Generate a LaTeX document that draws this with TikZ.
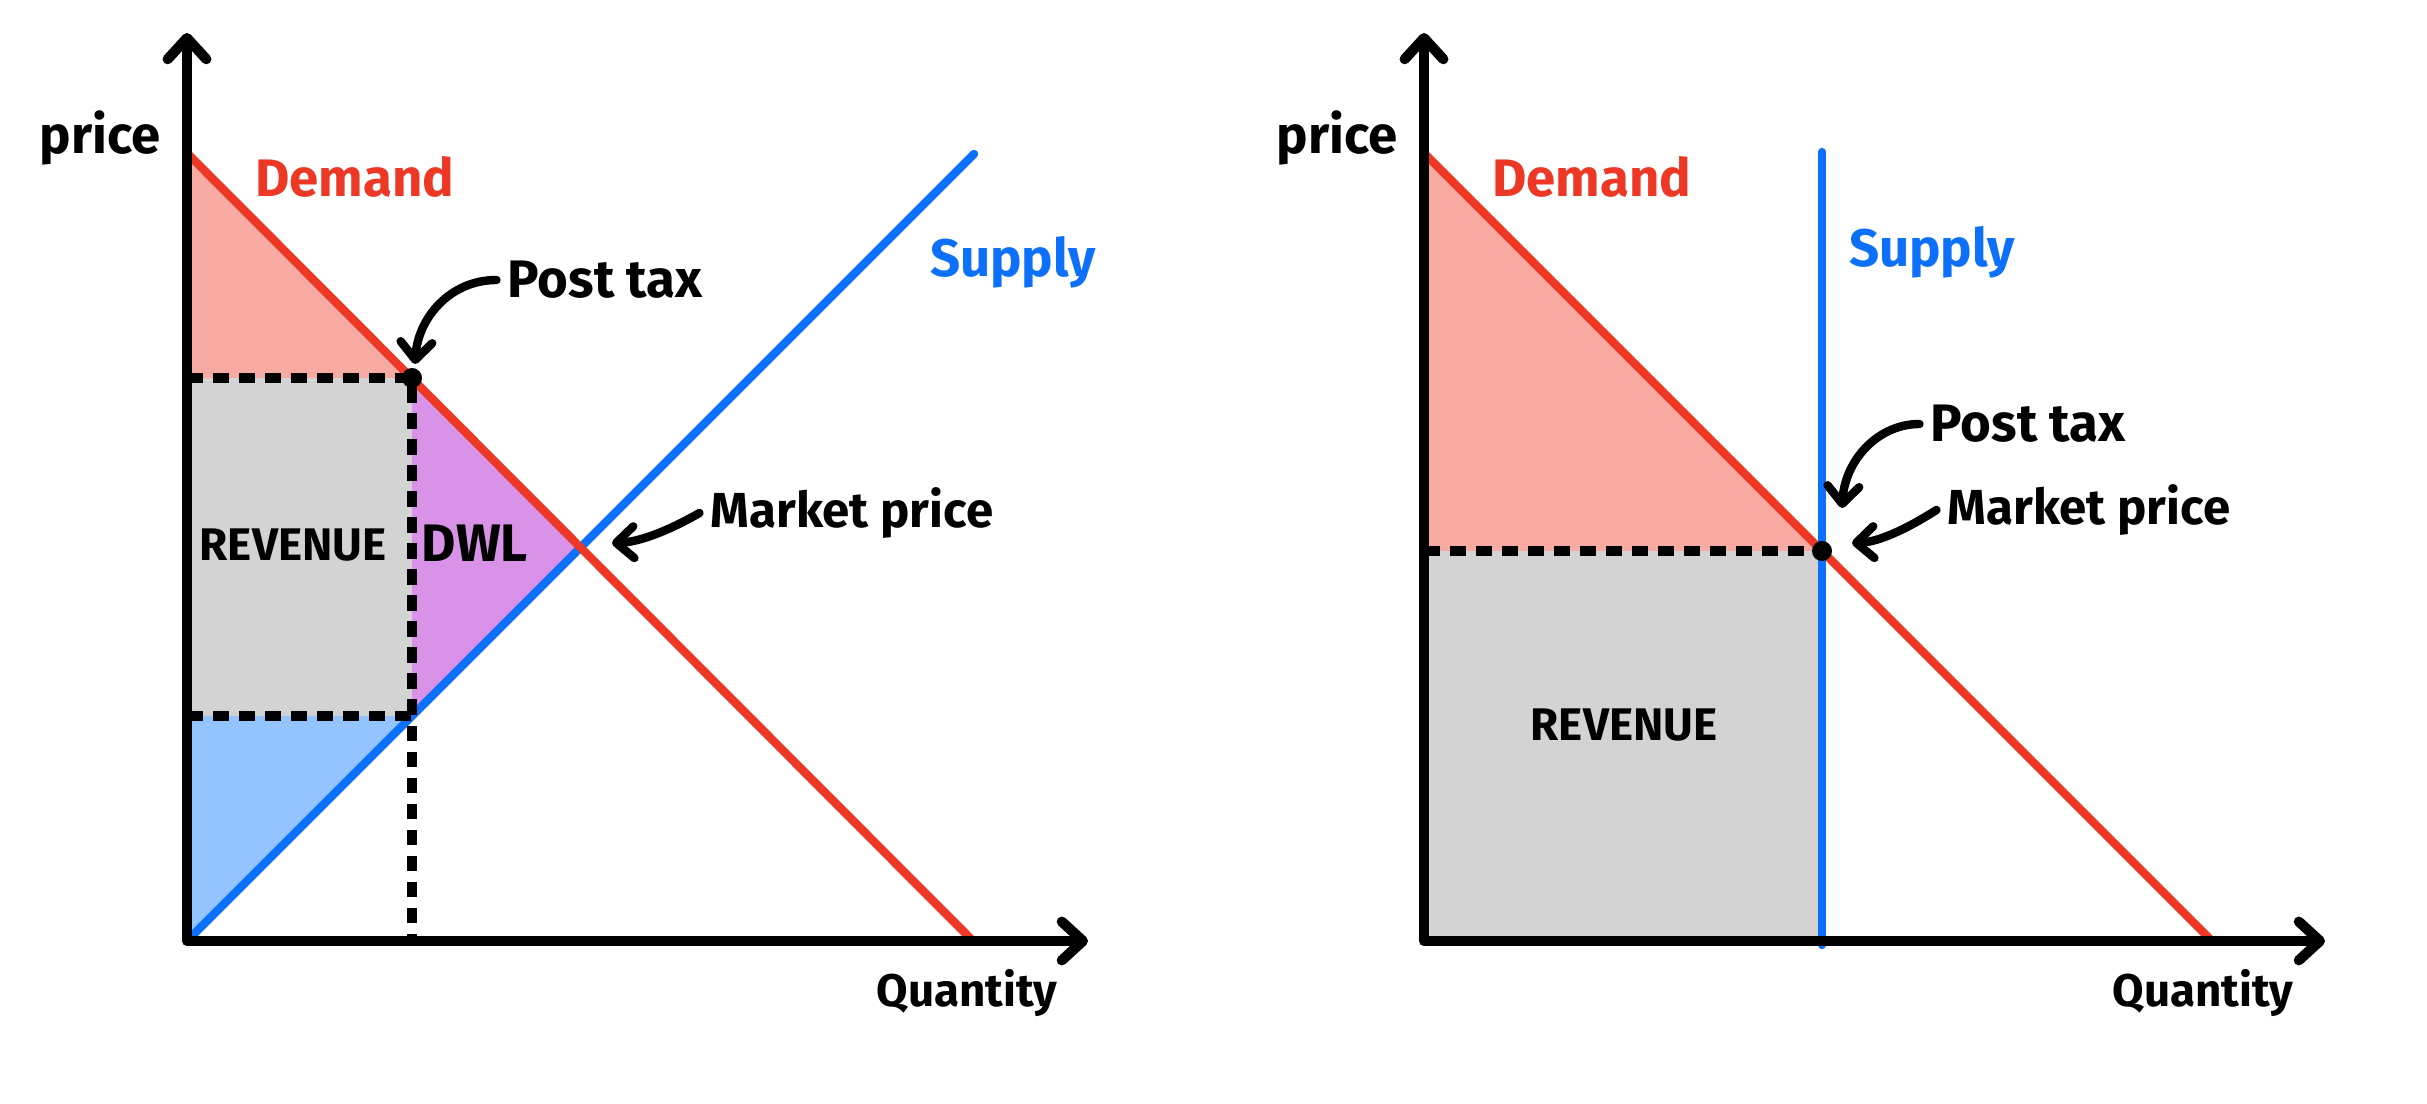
\documentclass[tikz,border=0pt]{standalone}
\usepackage{fontspec}
\setmainfont{Fira Sans}
\usepackage{tikz}
\usetikzlibrary{arrows.meta,positioning}
\definecolor{dred}{RGB}{236,56,36}
\definecolor{sblue}{RGB}{12,112,250}
\definecolor{csfill}{RGB}{247,170,161}
\definecolor{revfill}{RGB}{211,211,211}
\definecolor{dwlfill}{RGB}{216,147,232}
\definecolor{psfill}{RGB}{147,196,254}

\begin{document}
\begin{tikzpicture}[x=0.01cm, y=-0.01cm,
  axisline/.style={line width=2.9pt, line cap=round, line join=round,
    {Straight Barb[round,length=6pt,width=11pt]}-{Straight Barb[round,length=6pt,width=11pt]}},
  demline/.style={line width=2.4pt, dred},
  supline/.style={line width=2.4pt, sblue, line cap=round},
  taxline/.style={line width=3pt, dash pattern=on 4.5pt off 2.9pt},
  annarrow/.style={line width=2.4pt, line cap=round, -{Straight Barb[round,length=5pt,width=9pt]}},
  lbl/.style={font=\fontsize{15}{18}\selectfont\bfseries, inner sep=0pt},
  smlbl/.style={font=\fontsize{13}{16}\selectfont\bfseries, inner sep=0pt},
  taxdot/.style={circle, fill=black, inner sep=0pt, minimum size=0.2cm}]
 			\useasboundingbox (0,0) rectangle (2427,1104);
 			\path
 			(187,33) coordinate (y1)
 			(187,941) coordinate (o1)
 			(1088,941) coordinate (x1)
 			(187,153) coordinate (d1a)
 			(973,941) coordinate (d1b)
 			(974,154) coordinate (s1b)
 			(412,378) coordinate (p1)
 			(187,378) coordinate (t1)
 			(412,716) coordinate (l1)
 			(187,716) coordinate (b1)
 			(412,941) coordinate (q1)
 			(581,547) coordinate (e1)
 			(415,364) coordinate (tip1)
 			(612,543) coordinate (tip2)
 			(1424,33) coordinate (y2)
 			(1424,941) coordinate (o2)
 			(2325,941) coordinate (x2)
 			(1424,153) coordinate (d2a)
 			(2212,941) coordinate (d2b)
 			(1822,152) coordinate (s2a)
 			(1822,945) coordinate (s2b)
 			(1822,551) coordinate (p2)
 			(1424,551) coordinate (t2)
 			(1822,941) coordinate (q2)
 			(1842,508) coordinate (tip3)
 			(1852,543) coordinate (tip4)
 			;
 			
 			\fill[csfill] (d1a) -- (p1) -- (t1) -- cycle;
 			\fill[revfill] (t1) rectangle (l1);
 			\fill[dwlfill] (p1) -- (e1) -- (l1) -- cycle;
 			\fill[psfill] (b1) -- (l1) -- (o1) -- cycle;
 			
 			\draw[supline] (o1) -- (s1b);
 			\draw[demline] (d1a) -- (d1b);
 			\draw[taxline] (t1) -- (p1) -- (q1);
 			\draw[taxline] (b1) -- (l1);
 			\draw[axisline] (y1) -- (o1) -- (x1);
 			\node[taxdot] (pt1) at (p1) {};
 			
 			\node[lbl] (priceL) at (100,138) {price};
 			\node[lbl, dred] (demL) at (355,177) {Demand};
 			\node[lbl, sblue] (supL) at (1013,262) {Supply};
 			\node[smlbl] (qtyL) at (967,993) {Quantity};
 			\node[smlbl] (revL) at (293,545) {REVENUE};
 			\node[lbl] (dwl) at (475,543) {DWL};
 			\node[lbl, anchor=west] (ptaxL) at (507,280) {Post tax};
 			\node[smlbl, font=\fontsize{14}{16}\selectfont\bfseries, anchor=west] (mktL) at (710,513) {Market price};
 			
 			\draw[annarrow] ([xshift=-3pt]ptaxL.west) .. controls (450,280) and (418,318) .. (tip1);
 			\draw[annarrow] ([xshift=-3pt]mktL.west) .. controls (670,530) and (640,542) .. (tip2);
 			
 			\fill[csfill] (d2a) -- (p2) -- (t2) -- cycle;
 			\fill[revfill] (t2) rectangle (q2);
 			
 			\draw[demline] (d2a) -- (d2b);
 			\draw[supline] (s2a) -- (s2b);
 			\draw[taxline] (t2) -- (p2);
 			\draw[axisline] (y2) -- (o2) -- (x2);
 			\node[taxdot] (pt2) at (p2) {};
 			
 			\node[lbl] (priceR) at (1337,138) {price};
 			\node[lbl, dred] (demR) at (1592,177) {Demand};
 			\node[lbl, sblue] (supR) at (1932,252) {Supply};
 			\node[smlbl] (qtyR) at (2203,993) {Quantity};
 			\node[smlbl] (revR) at (1624,725) {REVENUE};
 			\node[lbl, anchor=west] (ptaxR) at (1930,424) {Post tax};
 			\node[smlbl, font=\fontsize{14}{16}\selectfont\bfseries, anchor=west] (mktR) at (1947,510) {Market price};
 			
 			\draw[annarrow] ([xshift=-3pt]ptaxR.west) .. controls (1878,424) and (1845,460) .. (tip3);
 			\draw[annarrow] ([xshift=-3pt]mktR.west) .. controls (1905,530) and (1878,542) .. (tip4);
 			
\end{tikzpicture}
\end{document}
